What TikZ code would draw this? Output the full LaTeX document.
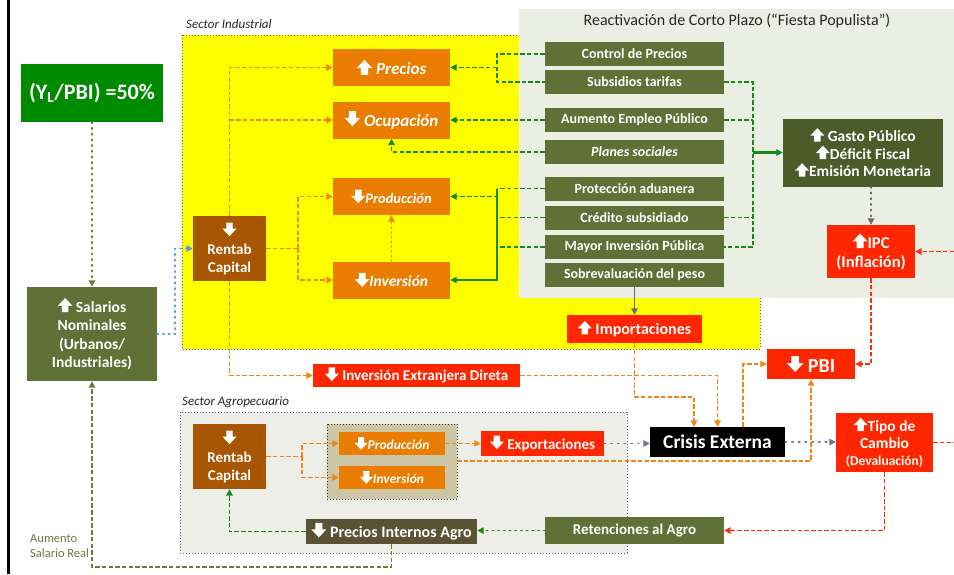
\documentclass[tikz,border=0pt]{standalone}
\usepackage{fontspec}
\setmainfont{Carlito}
\usetikzlibrary{arrows.meta}
\definecolor{cGreenBox}{HTML}{008A00}
\definecolor{cOlive}{HTML}{5F7137}
\definecolor{cGasto}{HTML}{4B5B29}
\definecolor{cPIA}{HTML}{5A5234}
\definecolor{cOrange}{HTML}{EA7D00}
\definecolor{cBrown}{HTML}{A85600}
\definecolor{cRed}{HTML}{FF2600}
\definecolor{cYellow}{HTML}{FFFF00}
\definecolor{cReact}{HTML}{EBEEE2}
\definecolor{cAgro}{HTML}{EEEEE8}
\definecolor{cTan}{HTML}{CCC6A5}
\definecolor{lnOrange}{HTML}{F0861A}
\definecolor{lnGreen}{HTML}{168A16}
\definecolor{lnRed}{HTML}{FF2A10}
\definecolor{lnPurple}{HTML}{7A6AA0}
\definecolor{lnBlue}{HTML}{5B9BD5}
\definecolor{lnOlive}{HTML}{6B7A3E}
\definecolor{lnGray}{HTML}{6A6A6A}
\newcommand\fsz[2]{\fontsize{#1}{#2}\selectfont}
\newcommand\myup[1][13.5]{\tikz[baseline=0pt,x=#1pt,y=#1pt]\fill[white] (-0.24,0) -- (-0.24,0.45) -- (-0.52,0.45) -- (0,1.0) -- (0.52,0.45) -- (0.24,0.45) -- (0.24,0) -- cycle;}
\newcommand\mydn[1][13.5]{\tikz[baseline=0pt,x=#1pt,y=#1pt]\fill[white] (-0.24,1.0) -- (-0.24,0.55) -- (-0.52,0.55) -- (0,0) -- (0.52,0.55) -- (0.24,0.55) -- (0.24,1.0) -- cycle;}
\tikzset{
  bx/.style={inner sep=0pt, text=white, align=center, font=\bfseries},
  pol/.style={bx, fill=cOlive, minimum width=179, minimum height=24, font=\bfseries\fsz{14}{16}},
  obox/.style={bx, fill=cOrange, minimum width=117, minimum height=37},
  rbox/.style={bx, fill=cRed},
  tip/.style={-{Triangle[length=6.5,width=6.5]}},
  odash/.style={draw=lnOrange, line width=1.8, dash pattern=on 4.5 off 2.2},
  odot/.style={draw=lnOrange, line width=1.8, dash pattern=on 1.2 off 3.5, line cap=round},
  gdash/.style={draw=lnGreen, line width=1.8, dash pattern=on 4.5 off 2.2},
  gsolid/.style={draw=lnGreen, line width=2.2},
  gdot/.style={draw=lnGreen, line width=1.8, dash pattern=on 1.2 off 4.5, line cap=round},
  rdash/.style={draw=lnRed, line width=1.8, dash pattern=on 4.5 off 2.2},
  pdot/.style={draw=lnPurple, line width=1.8, dash pattern=on 1.2 off 5.5, line cap=round},
  bdot/.style={draw=lnBlue, line width=1.8, dash pattern=on 1.2 off 4.5, line cap=round},
  oldash/.style={draw=lnOlive, line width=1.8, dash pattern=on 4.5 off 2.2},
  oldot/.style={draw=lnOlive, line width=1.8, dash pattern=on 1.2 off 4.5, line cap=round},
  graydot/.style={draw=lnGray, line width=1.8, dash pattern=on 1.2 off 4.5, line cap=round},
  graysolid/.style={draw=lnGray, line width=1.8},
  seclabel/.style={anchor=west, inner sep=0pt, font=\itshape\fsz{13}{15}, text=black!85},
}
\begin{document}
\begin{tikzpicture}[x=1pt,y=-1pt]
\useasboundingbox (0,0) rectangle (954,574);
\fill[white] (0,0) rectangle (954,574);
% left black rule
\draw[black, line width=2.5] (8.5,0) -- (8.5,574);
% backgrounds
\draw[fill=cYellow, draw=black!60, dash pattern=on 1 off 2] (182,35) rectangle (760,349);
\fill[cReact] (519,9) rectangle (954,298);
\draw[fill=cAgro, draw=black!60, dash pattern=on 1 off 2] (180,412) rectangle (627,553);
\node[seclabel] (lind) at (186,24) {Sector Industrial};
\node[seclabel] (lagro) at (182,402) {Sector Agropecuario};
\node[inner sep=0pt, font=\fsz{16}{18}, text=black!85] (ltit) at (737,21) {Reactivación de Corto Plazo (“Fiesta Populista”)};

% left nodes
\node[bx, fill=cGreenBox, minimum width=142, minimum height=58, font=\bfseries\fsz{22}{26}] (yl) at (92,93) {(Y\textsubscript{L}/PBI) =50\%};
\node[bx, fill=cOlive, minimum width=130, minimum height=94, font=\bfseries\fsz{15.5}{18.5}] (sal) at (92,334) {\myup[14]{} Salarios\\Nominales\\(Urbanos/\\Industriales)};
\node[inner sep=0pt, anchor=west, align=left, text=lnOlive, font=\fsz{12.5}{14.5}] (lasr) at (30,546) {Aumento\\Salario Real};

% industrial
\node[bx, fill=cBrown, minimum width=73, minimum height=65, font=\bfseries\fsz{15}{18}] (rc1) at (229.5,248.5) {\mydn\\Rentab\\Capital};
\node[obox, font=\bfseries\itshape\fsz{17}{20}] (precios) at (391.5,67.5) {\myup[15]{} Precios};
\node[obox, font=\bfseries\itshape\fsz{17}{20}] (ocup) at (391.5,120) {\mydn[15]{} Ocupación};
\node[obox, font=\bfseries\itshape\fsz{14.5}{17}] (prod) at (391.5,196.5) {\mydn{}Producción};
\node[obox, font=\bfseries\itshape\fsz{15.5}{18}] (inv) at (391.5,280) {\mydn[14]{}Inversión};
\node[rbox, minimum width=207, minimum height=23, font=\bfseries\fsz{15}{18}] (ied) at (416.5,375.5) {\mydn{} Inversión Extranjera Direta};
\node[rbox, minimum width=135, minimum height=28, font=\bfseries\fsz{16}{19}] (imp) at (634.5,329) {\myup{} Importaciones};

% policies
\node[pol] (cp) at (634.5,54) {Control de Precios};
\node[pol] (st) at (634.5,82) {Subsidios tarifas};
\node[pol] (aep) at (634.5,120) {Aumento Empleo Público};
\node[pol, font=\bfseries\itshape\fsz{14}{16}] (ps) at (634.5,152) {Planes sociales};
\node[pol] (pa) at (634.5,188.5) {Protección aduanera};
\node[pol] (cs) at (634.5,217.5) {Crédito subsidiado};
\node[pol] (mip) at (634.5,247) {Mayor Inversión Pública};
\node[pol] (sob) at (634.5,275) {Sobrevaluación del peso};
\node[bx, fill=cGasto, minimum width=160, minimum height=68, font=\bfseries\fsz{15.5}{17.5}] (gasto) at (863,152.5) {\myup{} Gasto Público\\\myup{}Déficit Fiscal\\\myup{}Emisión Monetaria};
\node[rbox, minimum width=88, minimum height=53, font=\bfseries\fsz{16.5}{19}] (ipc) at (871,251.5) {\myup[14.5]{}IPC\\(Inflación)};
\node[rbox, minimum width=88, minimum height=30, font=\bfseries\fsz{20}{22}] (pbi) at (811,364) {\mydn[16]{} PBI};
\node[bx, fill=black, minimum width=135, minimum height=30, font=\bfseries\fsz{19.5}{22}] (crisis) at (717.5,442) {Crisis Externa};
\node[rbox, minimum width=97, minimum height=59, font=\bfseries\fsz{15.5}{17}] (tipo) at (884.5,442.5) {\myup{}Tipo de\\Cambio\\{\fsz{13.5}{15}(Devaluación)}};

% agro
\node[bx, fill=cBrown, minimum width=73, minimum height=65, font=\bfseries\fsz{15}{18}] (rc2) at (229.5,456.5) {\mydn\\Rentab\\Capital};
\draw[fill=cTan, draw=black!80, dash pattern=on 1 off 2] (327,424) rectangle (457,499);
\coordinate (grpE) at (457,461);
\node[bx, fill=cOrange, minimum width=106, minimum height=23, font=\bfseries\itshape\fsz{13.5}{16}] (aprod) at (392,443.5) {\mydn[12.5]{}Producción};
\node[bx, fill=cOrange, minimum width=106, minimum height=23, font=\bfseries\itshape\fsz{13.5}{16}] (ainv) at (392,477.5) {\mydn[12.5]{}Inversión};
\node[rbox, minimum width=123, minimum height=25, font=\bfseries\fsz{15}{17}] (exp) at (542.5,443.5) {\mydn{} Exportaciones};
\node[bx, fill=cOlive, minimum width=179, minimum height=27, font=\bfseries\fsz{15}{17}] (ret) at (634.5,530.5) {Retenciones al Agro};
\node[bx, fill=cPIA, minimum width=171, minimum height=25, font=\bfseries\fsz{16}{18}] (pia) at (391.5,531.5) {\mydn[14.5]{} Precios Internos Agro};

% edge coordinates
\coordinate (edge) at (954,0);
\coordinate (gx) at (497,0);
\coordinate (rx) at (753,0);

% ---- connectors ----
% industrial orange
\draw[odash, tip] (rc1.north) |- (precios.west);
\draw[odash, tip] (rc1.north |- ocup.west) -- (ocup.west);
\draw[odash] (rc1.east) -- ++(32,0) coordinate (j1);
\draw[odash, tip] (j1) |- (prod.west);
\draw[odash, tip] (j1) |- (inv.west);
\draw[odot, tip] (inv.north) -- (prod.south);
\draw[odash, tip] (rc1.south) |- (ied.west);
% green left
\draw[gdash] (cp.west) -- (cp.west -| gx) -- (st.west -| gx) -- (st.west);
\draw[gdash, tip] (precios.east -| gx) -- (precios.east);
\draw[gdash, tip] (aep.west) -- (aep.west -| ocup.east);
\draw[gdash, tip] (ps.west) -| (ocup.south);
\draw[gdash] (pa.west) -- (pa.west -| gx);
\draw[gdash, tip] (pa.west -| gx) |- (prod.east);
\draw[gdash] (cs.west) -- (cs.west -| gx);
\draw[gdash] (mip.west) -- (mip.west -| gx);
\draw[gsolid, tip] (pa.west -| gx) |- (inv.east);
% green right
\draw[gdash] (st.east) -- (st.east -| rx) -- (mip.east -| rx) -- (mip.east);
\draw[gdash] (aep.east) -- (aep.east -| rx);
\draw[gdash] (cs.east) -- (cs.east -| rx);
\draw[gsolid, tip] (gasto.west -| rx) -- (gasto.west);
% gray
\draw[graysolid, tip] (sob.south) -- (imp.north);
\draw[graydot, tip] (ipc.north |- gasto.south) -- (ipc.north);
% red
\draw[rdash, tip] (ipc.east -| edge) -- (ipc.east);
\draw[rdash, tip] (ipc.south) |- (pbi.east);
\draw[rdash] (tipo.east) -- (tipo.east -| edge);
\draw[rdash, tip] (tipo.south) |- (ret.east);
% orange to crisis / pbi
\draw[odash, tip] (imp.south) -- ++(0,54) -| ([xshift=-23.5]crisis.north);
\draw[odash, tip] (ied.east) -| (crisis.north);
\draw[odash, tip] ([xshift=25.5]crisis.north) |- (pbi.west);
\draw[odash, tip] (grpE) -| (pbi.south);
% agro orange
\draw[odash] (rc2.east) -- ++(36,0) coordinate (j2);
\draw[odash, tip] (j2) |- (aprod.west);
\draw[odash, tip] (j2) |- (ainv.west);
\draw[odash, tip] (aprod.east) -- (aprod.east -| exp.west);
% purple
\draw[pdot, tip] (exp.east) -- (exp.east -| crisis.west);
\draw[pdot, tip] (crisis.east) -- (crisis.east -| tipo.west);
% agro green / olive
\draw[gdot, tip] (ret.west) -- (ret.west -| pia.east);
\draw[gdash, tip] (pia.west) -| (rc2.south);
\draw[oldash, tip] (pia.south) -- ++(0,23) -| (sal.south);
\draw[oldot, tip] (yl.south) -- (sal.north);
\draw[bdot, tip] (sal.east) -- ++(18,0) |- (rc1.west);
\end{tikzpicture}
\end{document}
